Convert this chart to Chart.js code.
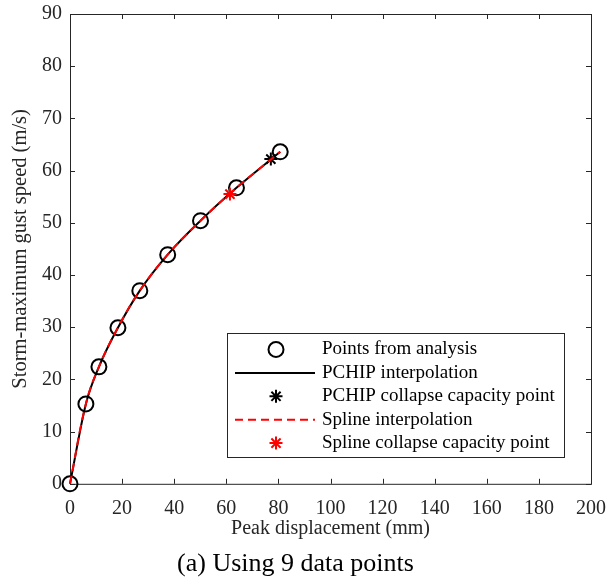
<!DOCTYPE html>
<html>
<head>
<meta charset="utf-8">
<script src="https://cdn.jsdelivr.net/npm/chart.js@4.4.1/dist/chart.umd.min.js"></script>
<style>
  html, body { margin: 0; padding: 0; background: #fff; }
  #wrap { width: 608px; height: 581px; }
</style>
</head>
<body>
<div id="wrap"><canvas id="c"></canvas></div>
<script>
// values
const displacement = [0, 6.1, 11.1, 18.4, 26.8, 37.5, 50.1, 63.9, 80.7];
const gustSpeed = [0, 15.3, 22.4, 29.9, 37.0, 43.9, 50.4, 56.7, 63.6];
const pchipCollapseX = [77.1];
const pchipCollapseY = [62.2];
const splineCollapseX = [61.4];
const splineCollapseY = [55.5];
const xTicks = [0, 20, 40, 60, 80, 100, 120, 140, 160, 180, 200];
const yTicks = [0, 10, 20, 30, 40, 50, 60, 70, 80, 90];
const legendLabels = ['Points from analysis', 'PCHIP interpolation', 'PCHIP collapse capacity point',
                      'Spline interpolation', 'Spline collapse capacity point'];

const AXIS = '#262626';
const RED = '#ff0000';
const FONT = "'Liberation Serif', 'Times New Roman', serif";

const pts = (xs, ys) => xs.map((x, i) => ({x: x, y: ys[i]}));

// MATLAB style box with inward ticks on all four sides
const boxTicks = {
  id: 'boxTicks',
  beforeDatasetsDraw(chart) {
    const {ctx, chartArea: a, scales: {x, y}} = chart;
    ctx.save();
    ctx.strokeStyle = AXIS;
    ctx.lineWidth = 1;
    ctx.strokeRect(a.left + 0.5, a.top + 0.5, a.right - a.left, a.bottom - a.top);
    ctx.beginPath();
    xTicks.forEach(v => {
      const px = Math.round(x.getPixelForValue(v)) + 0.5;
      ctx.moveTo(px, a.bottom); ctx.lineTo(px, a.bottom - 5);
      ctx.moveTo(px, a.top); ctx.lineTo(px, a.top + 5);
    });
    yTicks.forEach(v => {
      const py = Math.round(y.getPixelForValue(v)) + 0.5;
      ctx.moveTo(a.left, py); ctx.lineTo(a.left + 5, py);
      ctx.moveTo(a.right, py); ctx.lineTo(a.right - 5, py);
    });
    ctx.stroke();
    ctx.restore();
  }
};

// legend box drawn inside the axes, lower right
const boxLegend = {
  id: 'boxLegend',
  afterDraw(chart) {
    const ctx = chart.ctx;
    const left = 227, top = 333, w = 337, h = 124;
    const rowH = 23.4, y0 = 349.5, mx = 276, lx0 = 235, lx1 = 315, tx = 322;
    ctx.save();
    ctx.fillStyle = '#fff';
    ctx.fillRect(left, top, w, h);
    ctx.strokeStyle = AXIS;
    ctx.lineWidth = 1;
    ctx.strokeRect(left + 0.5, top + 0.5, w, h);

    const ds = chart.data.datasets;
    ds.forEach((d, i) => {
      const cy = y0 + i * rowH;
      ctx.save();
      if (d.showLine) {
        ctx.strokeStyle = d.borderColor;
        ctx.lineWidth = d.borderWidth;
        ctx.setLineDash(d.borderDash || []);
        ctx.beginPath();
        ctx.moveTo(lx0, cy); ctx.lineTo(lx1, cy);
        ctx.stroke();
      } else {
        ctx.strokeStyle = d.pointBorderColor;
        ctx.fillStyle = 'rgba(0,0,0,0)';
        ctx.lineWidth = d.pointBorderWidth;
        Chart.helpers.drawPoint(ctx, {
          pointStyle: d.pointStyle,
          radius: d.pointRadius,
          rotation: 0,
          borderWidth: d.pointBorderWidth
        }, mx, cy);
      }
      ctx.restore();
      ctx.fillStyle = '#000';
      ctx.font = '19px ' + FONT;
      ctx.textBaseline = 'middle';
      ctx.textAlign = 'left';
      ctx.fillText(legendLabels[i], tx, cy);
    });
    ctx.restore();
  }
};

new Chart(document.getElementById('c'), {
  type: 'scatter',
  data: {
    datasets: [
      {
        label: legendLabels[0],
        data: pts(displacement, gustSpeed),
        showLine: false,
        pointStyle: 'circle',
        pointRadius: 7.5,
        pointBorderWidth: 2,
        pointBorderColor: '#000',
        pointBackgroundColor: 'rgba(0,0,0,0)',
        clip: false,
        order: 5
      },
      {
        label: legendLabels[1],
        data: pts(displacement, gustSpeed),
        showLine: true,
        borderColor: '#000',
        borderWidth: 2,
        cubicInterpolationMode: 'monotone',
        pointRadius: 0,
        clip: false,
        order: 4
      },
      {
        label: legendLabels[2],
        data: pts(pchipCollapseX, pchipCollapseY),
        showLine: false,
        pointStyle: 'star',
        pointRadius: 6.5,
        pointBorderWidth: 2,
        pointBorderColor: '#000',
        pointBackgroundColor: '#000',
        order: 3
      },
      {
        label: legendLabels[3],
        data: pts(displacement, gustSpeed),
        showLine: true,
        borderColor: RED,
        borderWidth: 2,
        borderDash: [8, 5],
        tension: 0.4,
        pointRadius: 0,
        clip: false,
        order: 2
      },
      {
        label: legendLabels[4],
        data: pts(splineCollapseX, splineCollapseY),
        showLine: false,
        pointStyle: 'star',
        pointRadius: 6.5,
        pointBorderWidth: 2,
        pointBorderColor: RED,
        pointBackgroundColor: RED,
        order: 1
      }
    ]
  },
  options: {
    responsive: true,
    maintainAspectRatio: false,
    animation: false,
    layout: { padding: { left: 0, right: 17, top: 14, bottom: 0 } },
    plugins: {
      legend: { display: false },
      tooltip: { enabled: false },
      title: {
        display: true,
        position: 'bottom',
        text: '(a) Using 9 data points',
        color: '#000',
        font: { family: FONT, size: 26, weight: 'normal', lineHeight: 1.2 },
        padding: { top: 0, bottom: 1 }
      }
    },
    scales: {
      x: {
        type: 'linear',
        min: 0,
        max: 200,
        afterBuildTicks: s => { s.ticks = xTicks.map(v => ({value: v})); },
        afterFit: s => { s.height = 65; s.paddingLeft = 0; s.paddingRight = 0; },
        grid: { display: false, drawTicks: false },
        border: { display: false },
        ticks: { color: AXIS, padding: 13, font: { family: FONT, size: 20 } },
        title: {
          display: true,
          text: 'Peak displacement (mm)',
          color: AXIS,
          font: { family: FONT, size: 20 },
          padding: { top: 0, bottom: 8 }
        }
      },
      y: {
        type: 'linear',
        min: 0,
        max: 90,
        afterBuildTicks: s => { s.ticks = yTicks.map(v => ({value: v})); },
        afterFit: s => { s.width = 70; s.paddingTop = 0; s.paddingBottom = 0; },
        grid: { display: false, drawTicks: false },
        border: { display: false },
        ticks: { color: AXIS, padding: 8, font: { family: FONT, size: 20 } },
        title: {
          display: true,
          text: 'Storm-maximum gust speed (m/s)',
          color: AXIS,
          font: { family: FONT, size: 20.5 },
          padding: { top: 8, bottom: 0 }
        }
      }
    }
  },
  plugins: [boxTicks, boxLegend]
});
</script>
</body>
</html>
